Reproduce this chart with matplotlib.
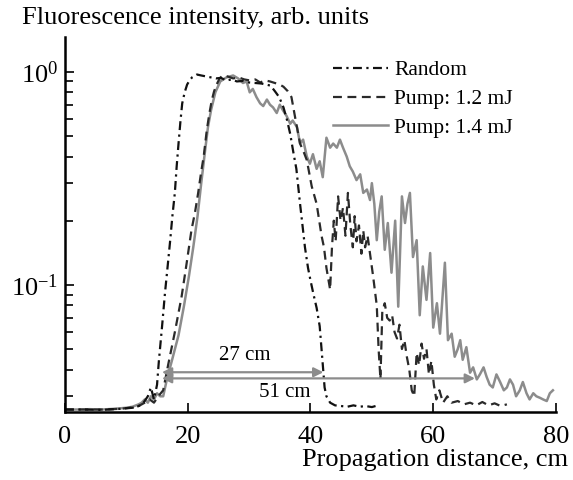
import matplotlib
matplotlib.use("Agg")
import matplotlib.pyplot as plt

plt.rcParams.update(
    {
        "font.family": "Liberation Serif",
        "mathtext.fontset": "custom",
        "mathtext.rm": "Liberation Serif",
        "mathtext.it": "Liberation Serif:italic",
        "mathtext.bf": "Liberation Serif:bold",
        "axes.unicode_minus": True,
    }
)

# Random: dash-dot black
RANDOM_X = [0, 3, 6, 9, 11, 12, 12.8, 13.5, 14.0, 14.5, 15.0, 15.3, 15.8, 16.3, 16.7,
            17.1, 17.5, 17.9, 18.2, 18.5, 18.8, 19.1, 19.5, 19.9, 20.3, 20.7, 21.5,
            22.2, 23.0, 23.8, 24.6, 25.4, 26.3, 27.2, 28.0, 29.0, 30.0, 31.0, 32.0,
            32.8, 33.5, 34.2, 34.9, 35.6, 36.2, 36.7, 37.2, 37.7, 38.0, 38.3, 38.7,
            39.1, 39.6, 40.0, 40.5, 41.0, 41.5, 41.8, 42.1, 42.3, 42.6, 43.2, 44.0,
            45.0, 46.0, 47.0, 48.0, 49.0, 50.0, 50.6]
RANDOM_Y = [0.026, 0.026, 0.0259, 0.0262, 0.0265, 0.027, 0.028, 0.030, 0.033, 0.029,
            0.034, 0.044, 0.063, 0.092, 0.12, 0.157, 0.21, 0.27, 0.36, 0.46, 0.58,
            0.71, 0.80, 0.87, 0.91, 0.94, 0.97, 0.96, 0.95, 0.94, 0.93, 0.935, 0.91,
            0.92, 0.90, 0.905, 0.89, 0.885, 0.88, 0.87, 0.86, 0.81, 0.76, 0.68, 0.59,
            0.51, 0.42, 0.35, 0.29, 0.24, 0.19, 0.15, 0.12, 0.105, 0.09, 0.078, 0.064,
            0.050, 0.039, 0.033, 0.030, 0.028, 0.0272, 0.0270, 0.0268, 0.0272, 0.0268,
            0.0270, 0.0267, 0.0270]

# Pump 1.2 mJ: dashed
PUMP12_X = [0, 3, 6, 9, 11, 12, 13, 13.8, 14.5, 15.2, 16.0, 16.8, 17.9, 19.0, 19.8,
            20.6, 21.2, 21.7, 22.2, 22.6, 23.1, 23.5, 23.9, 24.3, 24.7, 25.2, 25.7,
            26.5, 27.4, 28.3, 29.2, 30.1, 31.0, 31.8, 32.6, 33.4, 34.2, 35.0, 35.6,
            36.3, 36.9, 37.5, 38.3, 38.9, 39.4, 40.2, 41.0, 41.8, 42.2, 42.6, 43.2,
            43.5, 43.8, 44.1, 44.5, 44.9, 45.3, 45.7, 46.1, 46.5, 46.9, 47.2, 47.5,
            47.9, 48.3, 48.6, 48.9, 49.3, 49.7, 50.2, 50.8, 51.1, 51.4, 51.7, 52.1,
            52.5, 52.9, 53.3, 53.7, 54.1, 54.5, 54.9, 55.3, 55.7, 56.1, 56.5, 56.9,
            57.3, 57.7, 58.1, 58.5, 58.9, 59.3, 59.7, 60.1, 60.5, 61.0, 61.6, 62.3,
            63.0, 64.0, 65.0, 66.0, 67.0, 68.0, 69.0, 70.0, 71.0, 72.0]
PUMP12_Y = [0.026, 0.026, 0.026, 0.0262, 0.0266, 0.027, 0.028, 0.029, 0.028, 0.030,
            0.032, 0.042, 0.060, 0.088, 0.125, 0.18, 0.22, 0.27, 0.34, 0.40, 0.53,
            0.63, 0.73, 0.81, 0.87, 0.93, 0.96, 0.95, 0.93, 0.94, 0.92, 0.91, 0.92,
            0.89, 0.91, 0.90, 0.885, 0.87, 0.85, 0.81, 0.76, 0.61, 0.46, 0.42, 0.385,
            0.29, 0.24, 0.17, 0.15, 0.12, 0.095, 0.15, 0.20, 0.16, 0.26, 0.20, 0.23,
            0.17, 0.27, 0.19, 0.15, 0.21, 0.16, 0.19, 0.14, 0.18, 0.15, 0.17, 0.14,
            0.11, 0.08, 0.05, 0.036, 0.075, 0.082, 0.07, 0.068, 0.072, 0.06, 0.056,
            0.065, 0.05, 0.055, 0.046, 0.040, 0.032, 0.030, 0.048, 0.042, 0.053,
            0.045, 0.05, 0.038, 0.044, 0.034, 0.029, 0.032, 0.028, 0.030, 0.028,
            0.0285, 0.0275, 0.028, 0.0272, 0.0282, 0.0272, 0.0278, 0.027, 0.0275]

# Pump 1.4 mJ: solid grey
PUMP14_X = [0, 2, 4, 6, 8, 10, 11, 12, 12.5, 13, 13.5, 14, 14.5, 15, 15.5, 16.0, 16.6,
            17.5, 18.5, 19.4, 20.2, 20.9, 21.6, 22.2, 22.8, 23.3, 23.8, 24.5, 25.3,
            26.3, 27.4, 28.2, 29.0, 29.6, 30.1, 30.6, 31.2, 31.8, 32.3, 32.9, 33.4,
            33.9, 34.5, 35.0, 35.5, 36.1, 36.7, 37.1, 37.8, 38.3, 38.8, 39.4, 39.9,
            40.4, 41.0, 41.5, 42.0, 42.6, 43.2, 43.7, 44.3, 44.8, 45.3, 45.9, 46.4,
            46.9, 47.5, 48.1, 48.6, 49.2, 49.7, 50.0, 50.4, 50.8, 51.2, 51.6, 52.1,
            52.6, 53.2, 53.8, 54.3, 54.9, 55.4, 55.8, 56.2, 56.7, 57.3, 57.8, 58.3,
            58.9, 59.5, 60.0, 60.6, 61.1, 61.9, 62.4, 63.0, 63.5, 64.0, 64.4, 64.8,
            65.4, 66.0, 66.5, 67.1, 67.6, 68.2, 68.7, 69.2, 69.7, 70.3, 70.9, 71.5,
            72.0, 72.5, 73.0, 73.5, 74.1, 74.6, 75.2, 75.7, 76.3, 76.8, 77.4, 77.9,
            78.5, 79.0, 79.5]
PUMP14_Y = [0.026, 0.026, 0.0261, 0.026, 0.0262, 0.0265, 0.0268, 0.0275, 0.028, 0.029,
            0.028, 0.030, 0.029, 0.031, 0.030, 0.030, 0.036, 0.045, 0.058, 0.08, 0.11,
            0.15, 0.21, 0.30, 0.42, 0.55, 0.66, 0.80, 0.90, 0.94, 0.96, 0.93, 0.885,
            0.90, 0.80, 0.83, 0.76, 0.71, 0.69, 0.74, 0.70, 0.68, 0.64, 0.70, 0.66,
            0.62, 0.57, 0.59, 0.55, 0.46, 0.48, 0.40, 0.37, 0.41, 0.35, 0.38, 0.32,
            0.49, 0.44, 0.46, 0.44, 0.48, 0.44, 0.40, 0.36, 0.34, 0.31, 0.33, 0.27,
            0.28, 0.25, 0.30, 0.24, 0.162, 0.22, 0.26, 0.146, 0.195, 0.114, 0.20,
            0.079, 0.26, 0.195, 0.24, 0.27, 0.135, 0.162, 0.072, 0.122, 0.085, 0.141,
            0.063, 0.082, 0.059, 0.127, 0.055, 0.059, 0.046, 0.05, 0.055, 0.0445,
            0.051, 0.0387, 0.041, 0.036, 0.038, 0.041, 0.037, 0.034, 0.033, 0.038,
            0.035, 0.032, 0.033, 0.036, 0.034, 0.030, 0.032, 0.035, 0.031, 0.029,
            0.031, 0.030, 0.0295, 0.029, 0.0285, 0.031, 0.032]

LABELS = ["Random", "Pump: 1.2 mJ", "Pump: 1.4 mJ"]

# span arrows (start cm, end cm, height) and their labels
SPAN_27 = (15.8, 42.1, 0.0389)
SPAN_51 = (15.8, 66.8, 0.0364)

fig = plt.figure(figsize=(5.73, 4.8), dpi=100)
ax = fig.add_axes([0.1134, 0.1423, 0.8569, 0.78])

l14, = ax.plot(PUMP14_X, PUMP14_Y, color="#8c8c8c", lw=1.8, label=LABELS[2])
l12, = ax.plot(PUMP12_X, PUMP12_Y, color="#2a2a2a", lw=1.6, dashes=(4, 2.5), label=LABELS[1])
lr, = ax.plot(RANDOM_X, RANDOM_Y, color="#111111", lw=1.6, dashes=(4, 2, 1, 2), label=LABELS[0])

for x0, x1, y in (SPAN_27, SPAN_51):
    ax.annotate("", xy=(x1, y), xytext=(x0, y),
                arrowprops=dict(arrowstyle="<|-|>", color="#8c8c8c", lw=1.6,
                                mutation_scale=14, shrinkA=0, shrinkB=0))
ax.text(29.3, 0.0466, "27 cm", ha="center", va="center", fontsize=15)
ax.text(35.8, 0.0313, "51 cm", ha="center", va="center", fontsize=15)

ax.set_yscale("log")
ax.set_xlim(0, 80)
ax.set_ylim(0.0254, 1.45)
ax.set_xticks([0, 20, 40, 60, 80])

for side in ("top", "right"):
    ax.spines[side].set_visible(False)
for side in ("left", "bottom"):
    ax.spines[side].set_linewidth(1.8)

ax.tick_params(which="both", direction="in", width=1.2, labelsize=19)
ax.tick_params(which="major", length=6.5)
ax.tick_params(which="minor", length=6)
ax.tick_params(axis="x", pad=10.5)
ax.tick_params(axis="y", pad=5)

leg = ax.legend([lr, l12, l14], LABELS, loc="upper left", bbox_to_anchor=(0.546, 0.939),
                frameon=False, fontsize=15.5, labelspacing=0.41, handlelength=2.55,
                handletextpad=0.3, borderpad=0, borderaxespad=0)

fig.text(22 / 573, 1 - 18 / 480, "Fluorescence intensity, arb. units",
         ha="left", va="center", fontsize=19)
fig.text(568 / 573, 1 - 460 / 480, "Propagation distance, cm",
         ha="right", va="center", fontsize=19)

fig.savefig("out.png", dpi=100)
